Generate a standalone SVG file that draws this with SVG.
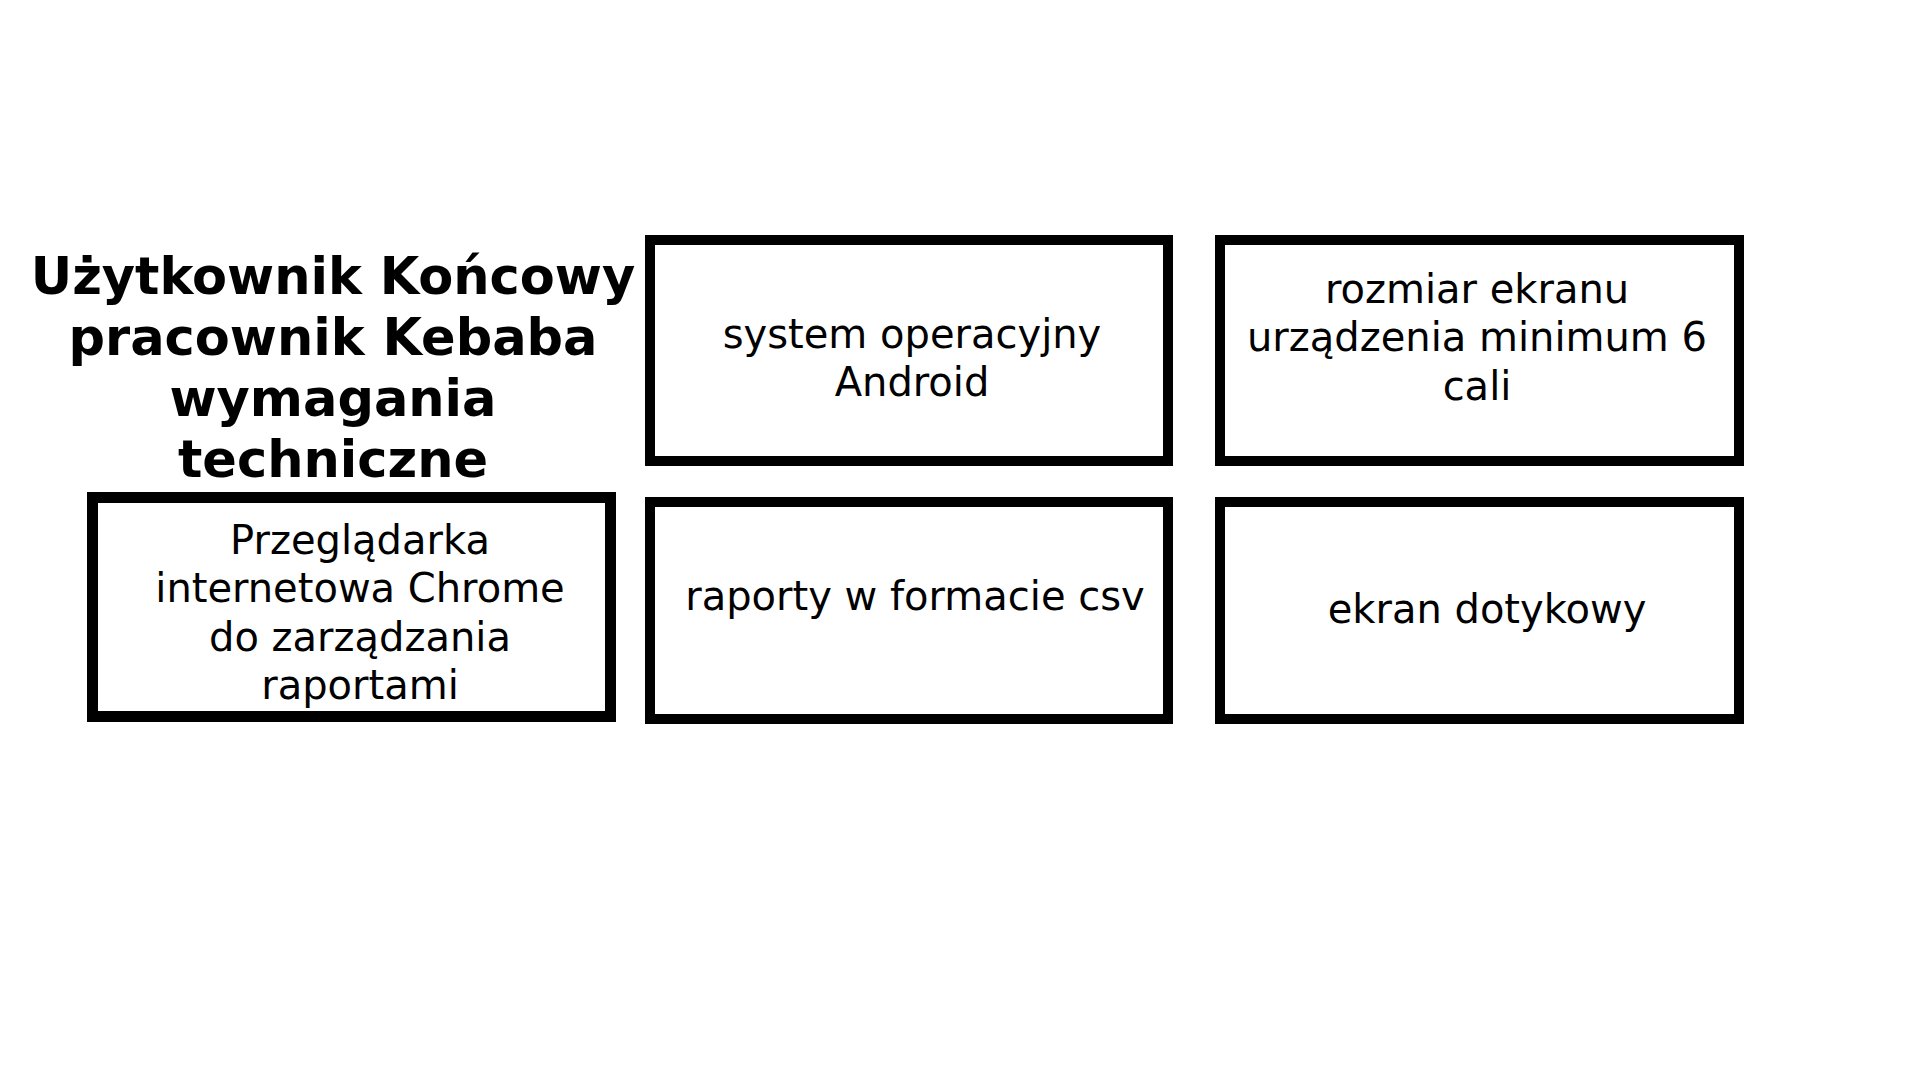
<svg xmlns="http://www.w3.org/2000/svg" width="1920" height="1080" viewBox="0 0 1920 1080">
<style>
.box{fill:#fff;stroke:#000;stroke-width:10}
.t{font-family:"DejaVu Sans","Noto Sans",sans-serif;font-size:40px;fill:#000;text-anchor:middle}
.h{font-family:"DejaVu Sans","Noto Sans",sans-serif;font-size:51px;font-weight:bold;fill:#000;text-anchor:middle}
</style>
<rect width="1920" height="1080" fill="#fff"/>
<g id="title">
<text class="h" x="333" y="294">Użytkownik Końcowy</text>
<text class="h" x="333" y="355">pracownik Kebaba</text>
<text class="h" x="333" y="416">wymagania</text>
<text class="h" x="333" y="477">techniczne</text>
</g>
<g id="node-android">
<rect class="box" x="650" y="240" width="518" height="221"/>
<text class="t" x="912" y="348">system operacyjny</text>
<text class="t" x="912" y="396">Android</text>
</g>
<g id="node-ekran-rozmiar">
<rect class="box" x="1220" y="240" width="519" height="221"/>
<text class="t" x="1477" y="303">rozmiar ekranu</text>
<text class="t" x="1477" y="351">urządzenia minimum 6</text>
<text class="t" x="1477" y="400">cali</text>
</g>
<g id="node-przegladarka">
<rect class="box" x="92.5" y="497.5" width="518" height="219" style="stroke-width:11"/>
<text class="t" x="360" y="554">Przeglądarka</text>
<text class="t" x="360" y="602">internetowa Chrome</text>
<text class="t" x="360" y="651">do zarządzania</text>
<text class="t" x="360" y="699">raportami</text>
</g>
<g id="node-csv">
<rect class="box" x="650" y="502" width="518" height="217"/>
<text class="t" x="915" y="610">raporty w formacie csv</text>
</g>
<g id="node-dotykowy">
<rect class="box" x="1220" y="502" width="519" height="217"/>
<text class="t" x="1487" y="623">ekran dotykowy</text>
</g>
<g id="connectors"/>
</svg>
